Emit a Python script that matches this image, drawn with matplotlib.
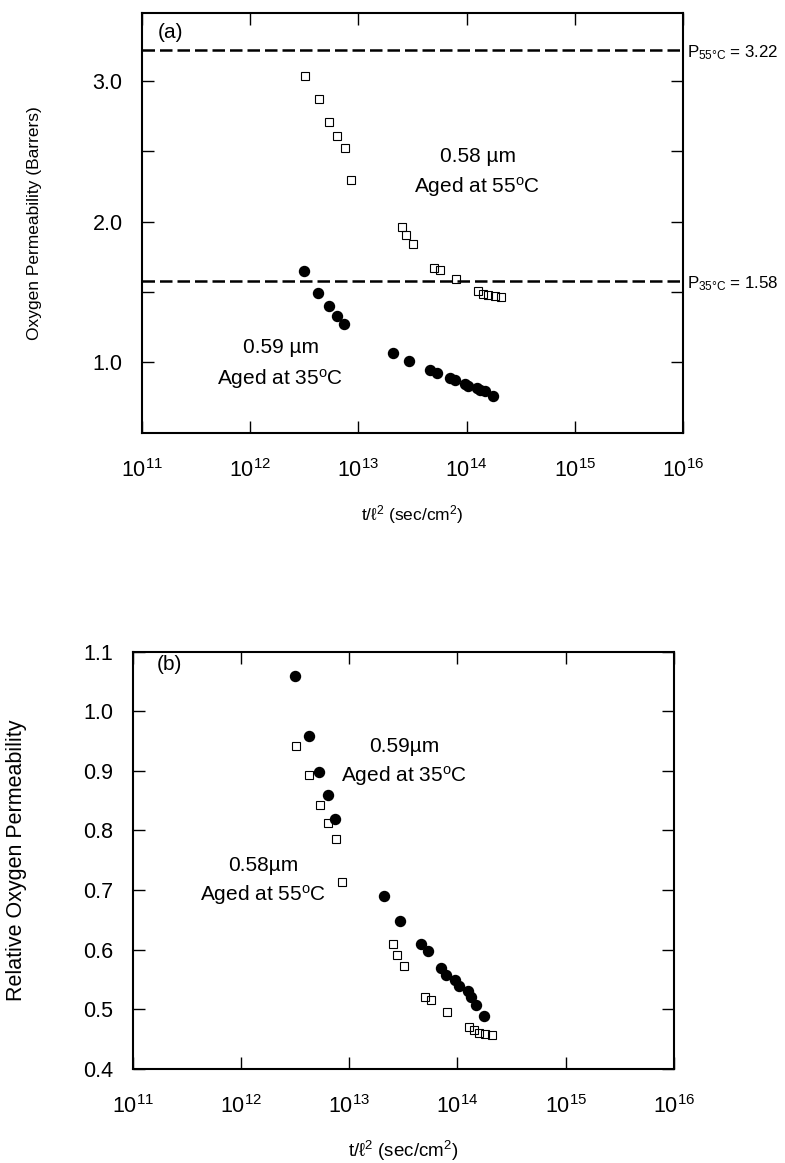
import matplotlib
matplotlib.use("Agg")
import matplotlib.pyplot as plt
from matplotlib.ticker import FixedLocator, NullLocator

plt.rcParams['font.family'] = ['Liberation Sans', 'DejaVu Sans']
plt.rcParams['mathtext.fontset'] = 'custom'
plt.rcParams['mathtext.rm'] = 'Liberation Sans'
plt.rcParams['mathtext.it'] = 'Liberation Sans:italic'
plt.rcParams['mathtext.bf'] = 'Liberation Sans:bold'

#aging time t/l^2 (sec/cm^2)
t_35 = [3.16e12, 4.24e12, 5.30e12, 6.34e12, 7.41e12, 2.09e13, 2.92e13, 4.62e13, 5.32e13,
        7.05e13, 7.76e13, 9.59e13, 1.03e14, 1.26e14, 1.33e14, 1.48e14, 1.77e14]
t_55 = [3.21e12, 4.29e12, 5.35e12, 6.38e12, 7.50e12, 8.55e12, 2.55e13, 2.77e13, 3.18e13,
        5.02e13, 5.71e13, 8.04e13, 1.27e14, 1.43e14, 1.58e14, 1.81e14, 2.07e14]

#(a) oxygen permeability (Barrers)
perm_35 = [1.648, 1.494, 1.396, 1.330, 1.273, 1.066, 1.011, 0.945, 0.924,
           0.888, 0.874, 0.845, 0.833, 0.817, 0.805, 0.793, 0.762]
perm_55 = [3.036, 2.872, 2.708, 2.608, 2.520, 2.294, 1.961, 1.902, 1.843,
           1.672, 1.653, 1.594, 1.505, 1.482, 1.475, 1.468, 1.463]
p_bulk_35 = 1.58
p_bulk_55 = 3.22

#(b) relative oxygen permeability
rel_35 = [1.059, 0.959, 0.898, 0.859, 0.819, 0.690, 0.648, 0.609, 0.598,
          0.569, 0.558, 0.549, 0.539, 0.530, 0.520, 0.508, 0.489]
rel_55 = [0.941, 0.893, 0.843, 0.813, 0.786, 0.714, 0.610, 0.592, 0.573,
          0.520, 0.516, 0.495, 0.470, 0.466, 0.461, 0.458, 0.457]

decades = [1e11, 1e12, 1e13, 1e14, 1e15, 1e16]
decade_labels = [r'$\mathregular{10^{%d}}$' % e for e in range(11, 17)]
xlabel = r't/ℓ$^\mathregular{2}$ (sec/cm$^\mathregular{2}$)'

fig = plt.figure(figsize=(7.85, 11.63), dpi=100)
ax1 = fig.add_axes([0.1809, 0.6281, 0.6892, 0.3604])
ax2 = fig.add_axes([0.1690, 0.0808, 0.6896, 0.3590])


def style_axis(ax, yticks, ylabels):
    ax.set_xscale('log')
    ax.set_xlim(1e11, 1e16)
    ax.xaxis.set_major_locator(FixedLocator(decades))
    ax.xaxis.set_minor_locator(NullLocator())
    ax.set_xticklabels(decade_labels)
    ax.set_yticks(yticks)
    ax.set_yticklabels(ylabels)
    ax.tick_params(direction='in', length=8.5, width=1.0, top=True, right=True,
                   labelsize=15.5)
    ax.tick_params(axis='x', pad=19)
    ax.tick_params(axis='y', pad=14)
    for s in ax.spines.values():
        s.set_linewidth(1.5)


def plot_pair(ax, y55, y35):
    ax.plot(t_55, y55, 's', ms=6.2, mfc='none', mec='black', mew=0.8)
    ax.plot(t_35, y35, 'o', ms=7.2, mfc='black', mec='black')


# ---- (a) ----
plot_pair(ax1, perm_55, perm_35)
ax1.axhline(p_bulk_55, color='black', lw=1.8, dashes=(5, 2))
ax1.axhline(p_bulk_35, color='black', lw=1.8, dashes=(5, 2))
ax1.set_ylim(0.5, 3.48)
style_axis(ax1, [1.0, 1.5, 2.0, 2.5, 3.0], ['1.0', '', '2.0', '', '3.0'])
ax1.set_xlabel(xlabel, fontsize=12.5, va='center')
ax1.xaxis.set_label_coords(0.5, -0.196)
ax1.set_ylabel('Oxygen Permeability (Barrers)', fontsize=12.5, va='center')
ax1.yaxis.set_label_coords(-0.198, 0.5)
ax1.text(0.03, 0.955, '(a)', transform=ax1.transAxes, fontsize=15, va='center', ha='left')

trans = ax1.get_yaxis_transform()
ax1.annotate(r'P$_\mathregular{55°C}$ = 3.22', xy=(1.0, p_bulk_55), xycoords=trans,
             xytext=(2.5, -5.5), textcoords='offset points', fontsize=12.2, va='baseline')
ax1.annotate(r'P$_\mathregular{35°C}$ = 1.58', xy=(1.0, p_bulk_35), xycoords=trans,
             xytext=(2.5, -5.5), textcoords='offset points', fontsize=12.2, va='baseline')

ax1.text(1.27e14, 2.46, '0.58 µm', fontsize=15, ha='center', va='center')
ax1.text(1.24e14, 2.247, r'Aged at 55$^\mathregular{o}$C', fontsize=15, ha='center', va='center')
ax1.text(1.92e12, 1.102, '0.59 µm', fontsize=15, ha='center', va='center')
ax1.text(1.9e12, 0.881, r'Aged at 35$^\mathregular{o}$C', fontsize=15, ha='center', va='center')

# ---- (b) ----
plot_pair(ax2, rel_55, rel_35)
ax2.set_ylim(0.4, 1.1)
yt = [0.4, 0.5, 0.6, 0.7, 0.8, 0.9, 1.0, 1.1]
style_axis(ax2, yt, ['%.1f' % v for v in yt])
ax2.set_xlabel(xlabel, fontsize=13.5, va='center')
ax2.xaxis.set_label_coords(0.5, -0.197)
ax2.set_ylabel('Relative Oxygen Permeability', fontsize=15.5, va='center')
ax2.yaxis.set_label_coords(-0.214, 0.5)
ax2.text(0.044, 0.968, '(b)', transform=ax2.transAxes, fontsize=15, va='center', ha='left')

ax2.text(3.2e13, 0.941, '0.59µm', fontsize=15, ha='center', va='center')
ax2.text(3.2e13, 0.891, r'Aged at 35$^\mathregular{o}$C', fontsize=15, ha='center', va='center')
ax2.text(1.6e12, 0.741, '0.58µm', fontsize=15, ha='center', va='center')
ax2.text(1.6e12, 0.691, r'Aged at 55$^\mathregular{o}$C', fontsize=15, ha='center', va='center')

fig.savefig('out.png', dpi=100)
